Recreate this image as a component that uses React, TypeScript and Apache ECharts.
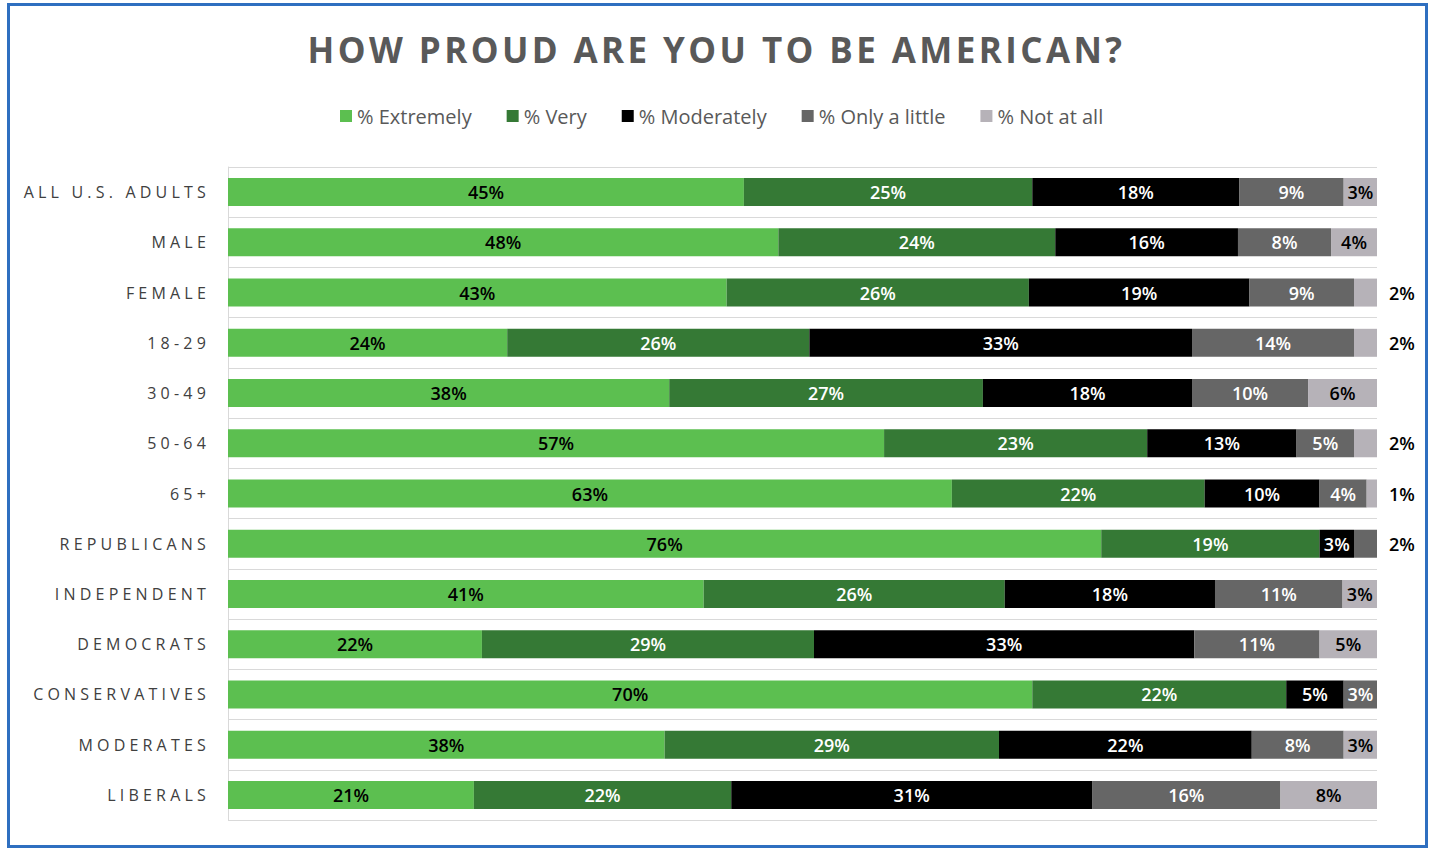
import React, { useEffect, useRef } from "react";
import * as echarts from "echarts";

const TITLE = "HOW PROUD ARE YOU TO BE AMERICAN?";
const categories = [
  "ALL U.S. ADULTS",
  "MALE",
  "FEMALE",
  "18-29",
  "30-49",
  "50-64",
  "65+",
  "REPUBLICANS",
  "INDEPENDENT",
  "DEMOCRATS",
  "CONSERVATIVES",
  "MODERATES",
  "LIBERALS",
];
const seriesNames = ["% Extremely", "% Very", "% Moderately", "% Only a little", "% Not at all"];
const extremely = [44.9, 47.9, 43.4, 24.3, 38.4, 57.1, 63.0, 76.0, 41.4, 22.1, 70.0, 38.0, 21.4];
const very = [25.1, 24.1, 26.3, 26.3, 27.3, 22.9, 22.0, 19.0, 26.2, 28.9, 22.1, 29.1, 22.4];
const moderately = [18.0, 15.9, 19.2, 33.3, 18.2, 13.0, 10.0, 3.0, 18.3, 33.1, 5.0, 22.0, 31.4];
const onlyALittle = [9.1, 8.1, 9.1, 14.1, 10.1, 5.0, 4.1, 2.0, 11.1, 10.9, 2.9, 8.0, 16.4];
const notAtAll = [2.9, 4.0, 2.0, 2.0, 6.0, 2.0, 0.9, 0, 3.0, 5.0, 0, 2.9, 8.4];

const seriesValues = [extremely, very, moderately, onlyALittle, notAtAll];
const seriesColors = ["#5cbf50", "#357935", "#000000", "#666666", "#b6b2b8"];
const labelColors = ["#000000", "#ffffff", "#ffffff", "#ffffff", "#000000"];

export default function App() {
  const ref = useRef<HTMLDivElement>(null);

  useEffect(() => {
    const el = ref.current!;
    const chart = echarts.init(el, undefined, { renderer: "svg" });

    const series = seriesValues.map((vals, i) => ({
      name: seriesNames[i],
      type: "bar",
      stack: "total",
      barWidth: 28,
      itemStyle: { color: seriesColors[i] },
      label: {
        show: true,
        position: "inside",
        color: labelColors[i],
        fontFamily: "Open Sans",
        fontWeight: 600,
        fontSize: 18,
        formatter: (p: any) => (p.value > 0 ? Math.round(p.value) + "%" : ""),
      },
      data: vals.map((v) =>
        v > 0 && v < 2.5
          ? { value: v, label: { position: "right", distance: 12, color: "#000000" } }
          : v
      ),
    }));

    chart.setOption({
      animation: false,
      backgroundColor: "#ffffff",
      title: {
        text: TITLE,
        left: "center",
        top: 27,
        textStyle: {
          fontFamily: "Open Sans",
          fontWeight: "bold",
          fontSize: 35,
          color: "#595959",
        },
      },
      legend: {
        data: seriesNames,
        top: 101,
        left: 335,
        icon: "rect",
        itemWidth: 12,
        itemHeight: 12,
        itemGap: 35,
        textStyle: { fontFamily: "Open Sans", fontSize: 20, color: "#595959" },
      },
      grid: { left: 228, right: 56, top: 167, bottom: 28, containLabel: false },
      xAxis: {
        type: "value",
        min: 0,
        max: 100,
        show: false,
      },
      yAxis: {
        type: "category",
        inverse: true,
        data: categories,
        axisLine: { show: true, lineStyle: { color: "#d9d9d9", width: 1 } },
        axisTick: { show: false },
        splitLine: { show: true, lineStyle: { color: "#d9d9d9", width: 1 } },
        axisLabel: {
          color: "#404040",
          fontFamily: "Open Sans",
          fontSize: 16,
          margin: 18,
        },
      },
      graphic: [
        {
          type: "rect",
          shape: { x: 8.5, y: 4.5, width: 1418, height: 842 },
          style: { fill: "none", stroke: "#2f6fc0", lineWidth: 3 },
          z: 100,
        },
      ],
      series,
    });

    const applySpacing = () => {
      el.querySelectorAll("text").forEach((t) => {
        const s = t.textContent || "";
        if (categories.includes(s)) t.setAttribute("letter-spacing", "4.2");
        else if (s === TITLE) t.setAttribute("letter-spacing", "3.4");
      });
    };
    applySpacing();
    chart.on("finished", applySpacing);
    const raf = requestAnimationFrame(applySpacing);

    return () => {
      cancelAnimationFrame(raf);
      chart.dispose();
    };
  }, []);

  return (
    <div
      ref={ref}
      style={{ position: "fixed", left: 0, top: 0, width: 1433, height: 848 }}
    />
  );
}
